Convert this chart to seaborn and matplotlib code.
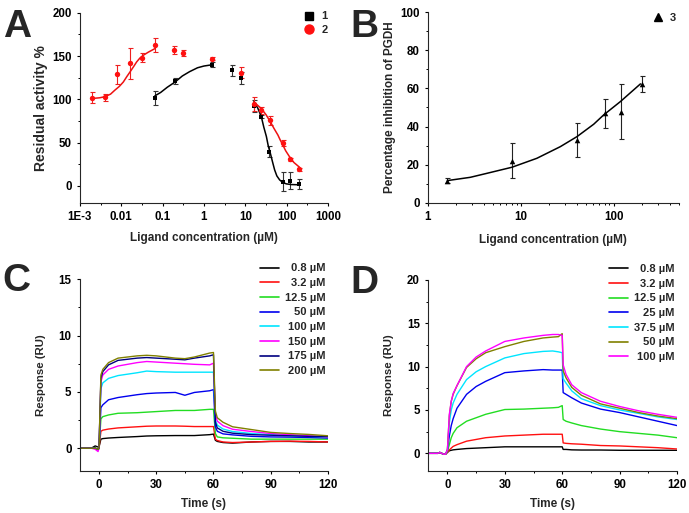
import matplotlib
matplotlib.use("Agg")
import matplotlib.pyplot as plt
from matplotlib.lines import Line2D
from matplotlib.ticker import FixedLocator, MultipleLocator, NullFormatter
import seaborn as sns
import numpy as np

# ---------------- Panel A ----------------
a1_conc = [0.065, 0.2, 1.6, 4.9, 8, 16, 24, 38, 80, 120, 200]
a1_act = [101.7, 121, 140, 133.5, 125, 92, 80, 39.5, 5, 6, 2]
a1_err = [8, 3.5, 3, 6, 7, 7, 2, 6, 11, 10, 6]
a2_conc = [0.002, 0.004, 0.008, 0.016, 0.032, 0.065, 0.19, 0.32, 1.6, 8, 16, 24, 40, 80, 120, 200]
a2_act = [101.7, 102.5, 129, 141.6, 148, 163, 157, 153.5, 147, 131, 95, 87.5, 75.6, 49, 30.7, 19]
a2_err = [6.5, 4, 11, 18, 5, 8, 5, 3.5, 2, 6, 8, 4, 5, 3.5, 2, 2]

# fitted curves
a1_rise_x = [0.065, 0.09, 0.13, 0.2, 0.3, 0.45, 0.7, 1.0, 1.6]
a1_rise_y = [104, 108, 114, 120, 127, 132, 136.5, 138.5, 140]
a1_fall_x = [16, 20, 24.4, 28, 32.4, 36, 40.4, 46, 51.3, 58, 67.7, 80, 98, 130, 205]
a1_fall_y = [97, 90, 80, 68, 57, 46, 37.6, 27, 18.4, 11.5, 6.9, 4, 2.3, 1.5, 1.2]
a2_rise_x = [0.002, 0.003, 0.004, 0.0055, 0.007, 0.009, 0.0112, 0.0135, 0.0163,
             0.02, 0.0235, 0.028, 0.034, 0.045, 0.065]
a2_rise_y = [101, 101.8, 103, 106, 110.6, 115, 120, 126, 131.7,
             138, 143.2, 147.5, 150.9, 154.5, 158.6]
a2_fall_x = [16, 20, 24.4, 32, 40.4, 50, 61.6, 70, 81, 95, 117, 150, 205]
a2_fall_y = [97, 93, 89.4, 82, 74, 66, 58.7, 53, 47.2, 40.5, 33.8, 27, 21.5]

# ---------------- Panel B ----------------
b_conc = [1.6, 8, 40, 80, 120, 200]
b_inh = [11.6, 22.1, 32.9, 46.9, 47.8, 62.4]
b_err = [1.3, 9.2, 8.7, 7.5, 14.3, 4.2]
b_fit_x = [1.63, 2.86, 4.32, 8.04, 14.9, 26.6, 40.3, 60.9, 78, 118, 194]
b_fit_y = [11.6, 13.3, 15.4, 18.6, 23.3, 29.4, 34.7, 41.2, 46.1, 53.1, 62.4]

# ---------------- Panel C (SPR) ----------------
c_time = [-10, -4, -2, -0.5, 0, 1, 2, 5, 10, 20, 25, 30, 40, 45, 50, 58, 60,
          61, 62, 65, 70, 80, 90, 100, 110, 120]
c_labels = ["0.8 µM", "3.2 µM", "12.5 µM", "50 µM", "100 µM", "150 µM", "175 µM", "200 µM"]
c_colors = ["black", "#ff1010", "#22dd22", "#0000ee", "#00e5ff", "#ff00ff", "#000080", "#808000"]
c_08 = [0, 0, 0.2, 0.1, 0.1, 0.8, 0.85, 0.9, 0.95, 1.03, 1.08, 1.1, 1.12, 1.12, 1.12, 1.2, 1.25,
        0.7, 0.6, 0.5, 0.45, 0.55, 0.6, 0.6, 0.55, 0.55]
c_32 = [0, 0, 0, -0.1, 0, 1.5, 1.6, 1.7, 1.8, 1.9, 1.95, 1.97, 1.97, 1.95, 1.92, 1.92, 1.92,
        0.8, 0.68, 0.55, 0.5, 0.55, 0.6, 0.62, 0.6, 0.55]
c_125 = [0, 0, 0, -0.1, 0, 2.6, 2.8, 2.95, 3.1, 3.15, 3.2, 3.25, 3.35, 3.35, 3.35, 3.45, 3.45,
         1.3, 1.0, 0.92, 0.88, 0.8, 0.8, 0.8, 0.8, 0.8]
c_50 = [0, 0, 0, -0.15, 0, 3.6, 3.85, 4.3, 4.5, 4.75, 4.85, 4.9, 4.95, 4.7, 4.95, 5.1, 5.2,
        1.9, 1.5, 1.27, 1.18, 1.05, 1.0, 0.98, 0.95, 0.9]
c_100 = [0, 0, 0, -0.2, 0, 5.3, 5.8, 6.2, 6.45, 6.7, 6.85, 6.8, 6.75, 6.75, 6.75, 6.75, 6.75,
         2.5, 2.05, 1.7, 1.48, 1.3, 1.2, 1.12, 1.05, 1.0]
c_150 = [0, 0, -0.1, -0.3, 0, 5.9, 6.5, 7.0, 7.3, 7.6, 7.7, 7.65, 7.55, 7.5, 7.45, 7.4, 7.55,
         3.0, 2.4, 2.0, 1.68, 1.48, 1.3, 1.2, 1.1, 1.0]
c_175 = [0, 0, 0, -0.1, 0, 6.2, 6.8, 7.4, 7.8, 8.0, 8.05, 8.0, 7.9, 7.85, 8.0, 8.2, 8.3,
         2.3, 1.8, 1.5, 1.33, 1.2, 1.15, 1.1, 1.05, 1.03]
c_200 = [0, 0, 0, -0.1, 0, 6.5, 7.0, 7.6, 8.0, 8.2, 8.25, 8.2, 8.0, 7.95, 8.1, 8.45, 8.5,
         3.3, 2.7, 2.3, 1.9, 1.65, 1.4, 1.3, 1.22, 1.1]

# ---------------- Panel D (SPR) ----------------
d_time = [-10, -5, -4, -2, -1, 0, 1, 2, 3, 5, 10, 15, 20, 30, 40, 50, 55, 58, 60,
          60.5, 62, 65, 70, 80, 90, 100, 110, 120]
d_labels = ["0.8 µM", "3.2 µM", "12.5 µM", "25 µM", "37.5 µM", "50 µM", "100 µM"]
d_colors = ["black", "#ff1010", "#22dd22", "#0000ee", "#00e5ff", "#808000", "#ff00ff"]
d_08 = [0, 0, 0.1, -0.1, -0.1, 0.1, 0.3, 0.35, 0.4, 0.45, 0.55, 0.6, 0.65, 0.75, 0.75, 0.75, 0.75, 0.75, 0.75,
        0.45, 0.45, 0.4, 0.38, 0.38, 0.35, 0.35, 0.35, 0.35]
d_32 = [0, 0, 0.1, -0.1, -0.1, 0.1, 0.4, 0.6, 0.8, 1.0, 1.4, 1.6, 1.8, 2.0, 2.1, 2.2, 2.2, 2.2, 2.2,
        1.2, 1.15, 1.1, 1.05, 0.9, 0.85, 0.75, 0.65, 0.5]
d_125 = [0, 0, 0.1, -0.1, -0.1, 0.2, 1.0, 1.8, 2.3, 2.95, 3.7, 4.1, 4.5, 5.05, 5.1, 5.2, 5.25, 5.3, 5.5,
         3.9, 3.7, 3.5, 3.2, 2.8, 2.5, 2.3, 2.1, 1.8]
d_25 = [0, 0, 0.1, -0.1, -0.1, 0.3, 2.0, 3.2, 4.0, 5.2, 6.8, 7.7, 8.3, 9.3, 9.5, 9.65, 9.6, 9.6, 9.6,
        7.0, 6.8, 6.4, 5.8, 5.1, 4.7, 4.2, 3.7, 3.2]
d_375 = [0, 0, 0.1, -0.1, -0.1, 0.4, 3.5, 5.0, 5.8, 6.8, 8.5, 9.4, 10.0, 11.0, 11.5, 11.75, 11.8, 11.7, 11.6,
         8.6, 8.1, 7.2, 6.3, 5.5, 5.0, 4.6, 4.2, 3.9]
d_50 = [0, 0, 0.1, -0.1, -0.1, 0.4, 4.3, 6.0, 6.8, 7.8, 9.9, 10.9, 11.6, 12.3, 12.9, 13.3, 13.4, 13.45, 13.8,
        9.5, 8.7, 7.6, 6.7, 5.7, 5.2, 4.7, 4.3, 4.0]
d_100 = [0, 0, 0.1, -0.1, -0.1, 0.4, 4.5, 6.0, 6.9, 7.8, 10.0, 11.1, 11.8, 12.9, 13.3, 13.6, 13.7, 13.7, 13.6,
         10.2, 9.1, 7.9, 7.0, 6.0, 5.4, 4.9, 4.5, 4.15]


sns.set_style("ticks")
plt.rcParams['font.family'] = ['Liberation Sans', 'DejaVu Sans']
plt.rcParams['font.weight'] = 'bold'
plt.rcParams['axes.labelweight'] = 'bold'
plt.rcParams['axes.linewidth'] = 0.8
plt.rcParams['xtick.major.size'] = 2.5
plt.rcParams['ytick.major.size'] = 2.5
plt.rcParams['xtick.minor.size'] = 1.4
plt.rcParams['ytick.minor.size'] = 1.4
plt.rcParams['xtick.major.width'] = 0.8
plt.rcParams['ytick.major.width'] = 0.8
plt.rcParams['xtick.minor.width'] = 0.7
plt.rcParams['ytick.minor.width'] = 0.7
plt.rcParams['xtick.labelsize'] = 8.3
plt.rcParams['ytick.labelsize'] = 8.3

LABEL_FS = 8.5
LEG_PROP = {'weight': 'bold', 'size': 8}


def style_axis(ax):
    sns.despine(ax=ax)
    ax.tick_params(which='both', direction='out', colors='black')
    for lab in ax.get_xticklabels() + ax.get_yticklabels():
        lab.set_fontweight('bold')


def right_align_legend(fig, leg):
    # Origin style legend: labels flush right
    fig.canvas.draw()
    renderer = fig.canvas.get_renderer()
    texts = leg.get_texts()
    widths = [t.get_window_extent(renderer).width for t in texts]
    widest = max(widths)
    for t, w in zip(texts, widths):
        t.set_position((widest - w, 0))


fig = plt.figure(figsize=(6.89, 5.13), dpi=100)
ax_a = fig.add_axes([0.116, 0.604, 0.360, 0.371])
ax_b = fig.add_axes([0.621, 0.605, 0.364, 0.371])
ax_c = fig.add_axes([0.116, 0.0825, 0.360, 0.373])
ax_d = fig.add_axes([0.6216, 0.0825, 0.361, 0.372])

# ---- A ----
ax = ax_a
ax.set_xscale('log')
ax.errorbar(a1_conc, a1_act, yerr=a1_err, fmt='none', ecolor='#333333', elinewidth=0.8,
            capsize=1.8, capthick=0.8)
ax.errorbar(a2_conc, a2_act, yerr=a2_err, fmt='none', ecolor='#ee2020', elinewidth=0.8,
            capsize=1.8, capthick=0.8)
sns.lineplot(x=a1_rise_x, y=a1_rise_y, ax=ax, color='black', lw=1.1)
sns.lineplot(x=a1_fall_x, y=a1_fall_y, ax=ax, color='black', lw=1.1)
sns.lineplot(x=a2_rise_x, y=a2_rise_y, ax=ax, color='#ee1111', lw=1.1)
sns.lineplot(x=a2_fall_x, y=a2_fall_y, ax=ax, color='#ee1111', lw=1.1)
sns.scatterplot(x=a1_conc, y=a1_act, ax=ax, marker='s', color='black', s=12, edgecolor='black', linewidth=0, zorder=5)
sns.scatterplot(x=a2_conc, y=a2_act, ax=ax, marker='o', color='#ff1010', s=15, edgecolor='#ff1010', linewidth=0, zorder=5)
ax.set_xlim(1e-3, 1000)
ax.set_ylim(-20, 200)
ax.xaxis.set_major_locator(FixedLocator([1e-3, 1e-2, 1e-1, 1, 10, 100, 1000]))
ax.set_xticklabels(['1E-3', '0.01', '0.1', '1', '10', '100', '1000'])
ax.xaxis.set_minor_locator(FixedLocator([10 ** (k + 0.5) for k in range(-3, 3)]))
ax.xaxis.set_minor_formatter(NullFormatter())
ax.yaxis.set_major_locator(FixedLocator([0, 50, 100, 150, 200]))
ax.yaxis.set_minor_locator(FixedLocator([-25, 25, 75, 125, 175]))
ax.set_xlabel('Ligand concentration (µM)', fontsize=LABEL_FS, fontweight='bold', labelpad=6)
ax.set_ylabel('Residual activity %', fontsize=10, fontweight='bold', labelpad=3)
style_axis(ax)
hA = [Line2D([], [], ls='none', marker='s', color='black', markersize=5.5),
      Line2D([], [], ls='none', marker='o', color='#ff1010', markersize=6.5)]
ax.legend(handles=hA, labels=['1', '2'], loc='upper right', bbox_to_anchor=(1.04, 1.06),
          frameon=False, handletextpad=0.6, labelspacing=0.35, handlelength=1.0, prop=LEG_PROP)

# ---- B ----
ax = ax_b
ax.set_xscale('log')
ax.errorbar(b_conc, b_inh, yerr=b_err, fmt='none', ecolor='#222222', elinewidth=0.8,
            capsize=1.8, capthick=0.8)
sns.lineplot(x=b_fit_x, y=b_fit_y, ax=ax, color='black', lw=1.1)
sns.scatterplot(x=b_conc, y=b_inh, ax=ax, marker='^', color='black', s=16, linewidth=0, zorder=5)
ax.set_xlim(1, 500)
ax.set_ylim(0, 100)
ax.xaxis.set_major_locator(FixedLocator([1, 10, 100]))
ax.set_xticklabels(['1', '10', '100'])
minors = [m * 10 ** k for k in range(0, 3) for m in range(2, 10) if m * 10 ** k <= 500]
ax.xaxis.set_minor_locator(FixedLocator(minors))
ax.xaxis.set_minor_formatter(NullFormatter())
ax.yaxis.set_major_locator(MultipleLocator(20))
ax.yaxis.set_minor_locator(MultipleLocator(10))
ax.set_xlabel('Ligand concentration (µM)', fontsize=LABEL_FS, fontweight='bold', labelpad=8)
ax.set_ylabel('Percentage inhibition of PGDH', fontsize=LABEL_FS, fontweight='bold', labelpad=3)
style_axis(ax)
hB = [Line2D([], [], ls='none', marker='^', color='black', markersize=6)]
ax.legend(handles=hB, labels=['3'], loc='upper right', bbox_to_anchor=(1.03, 1.05),
          frameon=False, handletextpad=0.6, handlelength=1.0, prop=LEG_PROP)

# ---- C ----
ax = ax_c
c_series = [c_08, c_32, c_125, c_50, c_100, c_150, c_175, c_200]
for vals, col, lab in zip(c_series, c_colors, c_labels):
    sns.lineplot(x=c_time, y=vals, ax=ax, color=col, lw=1.0, label=lab)
ax.set_xlim(-10, 120)
ax.set_ylim(-2, 15)
ax.xaxis.set_major_locator(MultipleLocator(30))
ax.xaxis.set_minor_locator(MultipleLocator(15))
ax.yaxis.set_major_locator(MultipleLocator(5))
ax.yaxis.set_minor_locator(MultipleLocator(2.5))
ax.set_xlabel('Time (s)', fontsize=LABEL_FS, fontweight='bold', labelpad=5)
ax.set_ylabel('Response (RU)', fontsize=8.2, fontweight='bold', labelpad=9)
style_axis(ax)
leg_c = ax.legend(loc='upper right', bbox_to_anchor=(1.03, 1.135), frameon=False,
                  handlelength=1.7, handletextpad=0.5, labelspacing=0.42, prop=LEG_PROP)
for ln in leg_c.get_lines():
    ln.set_linewidth(1.2)

# ---- D ----
ax = ax_d
d_series = [d_08, d_32, d_125, d_25, d_375, d_50, d_100]
for vals, col, lab in zip(d_series, d_colors, d_labels):
    sns.lineplot(x=d_time, y=vals, ax=ax, color=col, lw=1.0, label=lab)
ax.set_xlim(-10, 120)
ax.set_ylim(-2, 20)
ax.xaxis.set_major_locator(MultipleLocator(30))
ax.xaxis.set_minor_locator(MultipleLocator(15))
ax.yaxis.set_major_locator(MultipleLocator(5))
ax.yaxis.set_minor_locator(MultipleLocator(2.5))
ax.set_xlabel('Time (s)', fontsize=LABEL_FS, fontweight='bold', labelpad=5)
ax.set_ylabel('Response (RU)', fontsize=8.2, fontweight='bold', labelpad=9)
style_axis(ax)
leg_d = ax.legend(loc='upper right', bbox_to_anchor=(1.03, 1.135), frameon=False,
                  handlelength=1.7, handletextpad=0.5, labelspacing=0.42, prop=LEG_PROP)
for ln in leg_d.get_lines():
    ln.set_linewidth(1.2)

# panel letters
for letter, x, y in [('A', 0.004, 0.928), ('B', 0.508, 0.928), ('C', 0.004, 0.432), ('D', 0.508, 0.429)]:
    fig.text(x, y, letter, fontsize=28, fontweight='bold', va='baseline', ha='left')

right_align_legend(fig, leg_c)
right_align_legend(fig, leg_d)

fig.savefig('out.png', dpi=100)
